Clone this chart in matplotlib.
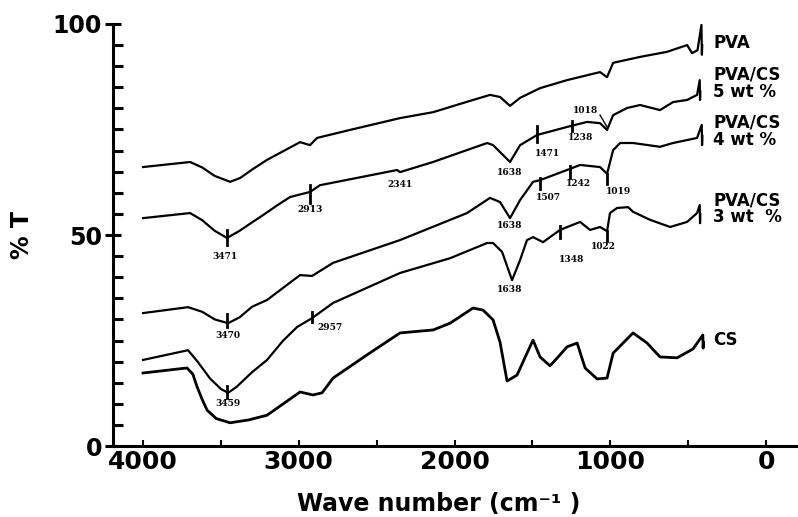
import numpy as np
import matplotlib
matplotlib.use("Agg")
import matplotlib.pyplot as plt
from matplotlib.ticker import MultipleLocator

# FTIR spectra, values (wave number in cm-1, %T)
pva_wn = [4000, 3698, 3620, 3540, 3441, 3377, 3300, 3204, 2992, 2928, 2883, 2671, 2350, 2138,
          1881, 1772, 1708, 1644, 1579, 1451, 1278, 1066, 1021, 982, 809, 636, 507, 475, 440,
          415, 412, 410]
pva_t = [66.1, 67.3, 66.0, 64.0, 62.6, 63.5, 65.5, 67.8, 72.0, 71.3, 73.0, 74.9, 77.7, 79.1,
         82.0, 83.2, 82.7, 80.6, 82.5, 84.8, 86.7, 88.6, 87.4, 90.8, 92.2, 93.4, 95.0, 93.1, 93.8,
         99.8, 92.7, 95.0]

cs5_wn = [4000, 3698, 3620, 3540, 3461, 3380, 3300, 3230, 3140, 3056, 2928, 2864, 2369, 2350,
          2138, 1791, 1753, 1644, 1579, 1470, 1278, 1149, 1066, 1021, 982, 892, 809, 681, 597,
          507, 443, 426, 424, 422]
cs5_t = [54.0, 55.2, 53.5, 51.0, 49.3, 51.0, 53.0, 54.7, 57.0, 59.0, 60.2, 61.8, 65.4, 64.9,
         67.3, 71.8, 71.3, 67.3, 71.3, 73.7, 75.6, 76.8, 76.5, 74.9, 78.4, 80.1, 80.8, 79.6, 81.5,
         82.0, 83.2, 86.7, 82.0, 84.0]

cs4_wn = [4000, 3711, 3620, 3540, 3454, 3380, 3300, 3204, 3100, 2992, 2915, 2780, 2350, 1920,
          1772, 1708, 1644, 1579, 1496, 1451, 1278, 1194, 1066, 1021, 982, 937, 854, 681, 597,
          507, 443, 413, 411, 409]
cs4_t = [31.5, 32.9, 31.8, 30.0, 29.1, 30.5, 33.0, 34.6, 37.5, 40.5, 40.3, 43.4, 48.8, 55.2,
         58.8, 57.8, 54.0, 58.3, 62.6, 63.0, 65.4, 66.6, 66.1, 64.5, 70.1, 71.8, 71.8, 70.9, 71.8,
         72.5, 73.0, 76.1, 71.3, 73.5]

cs3_wn = [4000, 3711, 3650, 3570, 3500, 3454, 3400, 3300, 3204, 3100, 3011, 2915, 2780, 2350,
          2029, 1791, 1753, 1695, 1631, 1579, 1535, 1496, 1432, 1323, 1194, 1130, 1066, 1021,
          1002, 957, 886, 854, 745, 616, 507, 443, 426, 424, 422]
cs3_t = [20.4, 22.7, 20.0, 16.0, 13.5, 12.6, 14.0, 17.5, 20.4, 25.0, 28.2, 30.3, 33.9, 41.0,
         44.5, 48.1, 48.1, 46.0, 39.3, 44.1, 48.8, 49.5, 48.3, 51.2, 53.1, 51.2, 51.9, 50.9,
         55.2, 56.4, 56.6, 55.5, 53.6, 51.9, 53.1, 55.2, 57.1, 52.8, 55.0]

cs_wn = [4000, 3718, 3680, 3653, 3620, 3589, 3530, 3441, 3320, 3204, 3100, 2992, 2909, 2851,
         2780, 2562, 2350, 2138, 2029, 1881, 1817, 1753, 1708, 1663, 1599, 1535, 1496, 1451,
         1387, 1323, 1278, 1213, 1162, 1085, 1021, 982, 918, 854, 764, 681, 571, 469, 406,
         404, 402]
cs_t = [17.3, 18.5, 17.0, 14.0, 11.0, 8.5, 6.5, 5.5, 6.2, 7.3, 10.0, 12.8, 12.1, 12.6,
        16.1, 21.6, 26.8, 27.5, 29.1, 32.7, 32.2, 29.9, 24.6, 15.4, 16.8, 22.0, 25.1, 21.1,
        19.0, 21.6, 23.5, 24.4, 18.5, 15.9, 16.1, 22.0, 24.4, 26.8, 24.4, 21.1, 20.9, 23.0,
        26.3, 23.2, 24.5]

# peak labels: text, wave number, %T
peak_text = ['3471', '2913', '2341', '1638', '1471', '1238', '1018',
             '1638', '1507', '1242', '1019',
             '1638', '1348', '1022', '3470', '2957', '3459']
peak_wn = [3473, 2928, 2350, 1644, 1406, 1194, 1162,
           1644, 1400, 1207, 950,
           1644, 1246, 1047, 3454, 2800, 3454]
peak_t = [45.0, 56.0, 62.0, 64.9, 69.2, 73.0, 79.6,
          52.3, 58.8, 62.3, 60.2,
          37.0, 44.3, 47.2, 26.3, 28.0, 10.0]

# small vertical markers on the curves: wave number, low %T, high %T
mark_wn = [3461, 2928, 1470, 1245, 1451, 1258, 1021, 1323, 1021, 3461, 2915, 3461]
mark_lo = [47.6, 57.6, 72.0, 74.6, 60.9, 63.5, 62.1, 49.3, 48.6, 28.2, 29.4, 11.4]
mark_hi = [51.2, 61.8, 75.8, 77.0, 63.5, 66.4, 64.5, 52.1, 50.9, 31.3, 31.7, 14.2]

series_names = ['PVA', 'PVA/CS\n5 wt %', 'PVA/CS\n4 wt %', 'PVA/CS\n3 wt  %', 'CS']
name_t = [95.5, 85.9, 74.5, 56.2, 25.1]

fig = plt.figure(figsize=(7.98, 5.17), dpi=100)
ax = fig.add_axes([0.1416, 0.1373, 0.8584, 0.8163])

curves = [(pva_wn, pva_t), (cs5_wn, cs5_t), (cs4_wn, cs4_t), (cs3_wn, cs3_t), (cs_wn, cs_t)]
for i, (wn, t) in enumerate(curves):
    ax.plot(wn, t, color='black', lw=2.0 if i == 4 else 1.6, solid_joinstyle='round')

for w, lo, hi in zip(mark_wn, mark_lo, mark_hi):
    ax.plot([w, w], [lo, hi], color='black', lw=2.0)
# leader line for 1018
ax.plot([1066, 1021], [78.4, 75.6], color='black', lw=1.0)

for s, w, t in zip(peak_text, peak_wn, peak_t):
    ax.text(w, t, s, fontsize=6.5, fontweight='bold', ha='center', va='center',
            family='DejaVu Serif')

for s, t in zip(series_names, name_t):
    ax.text(340, t, s, fontsize=12, fontweight='bold', ha='left', va='center',
            linespacing=0.95, clip_on=False)

ax.set_xlim(4193, -205)
ax.set_ylim(0, 100)

for side in ['top', 'right']:
    ax.spines[side].set_visible(False)
for side in ['left', 'bottom']:
    ax.spines[side].set_linewidth(2.2)

ax.set_yticks([0, 50, 100])
ax.yaxis.set_minor_locator(MultipleLocator(5))
ax.set_xticks([4000, 3000, 2000, 1000, 0])
ax.xaxis.set_minor_locator(MultipleLocator(500))
ax.tick_params(axis='y', which='major', direction='inout', length=12, width=2.2, pad=2,
               labelsize=17)
ax.tick_params(axis='y', which='minor', direction='in', length=7, width=2.2)
ax.tick_params(axis='x', which='both', direction='in', length=4, width=1.5, pad=3,
               labelsize=18)
for lab in ax.get_xticklabels() + ax.get_yticklabels():
    lab.set_fontweight('bold')

ax.set_xlabel('Wave number (cm\u207b\u00b9 )', fontsize=17, fontweight='bold')
ax.set_ylabel('% T', fontsize=17, fontweight='bold')
ax.yaxis.set_label_coords(-0.115, 0.5)
ax.xaxis.set_label_coords(0.476, -0.108)

fig.savefig('out.png', dpi=100)
